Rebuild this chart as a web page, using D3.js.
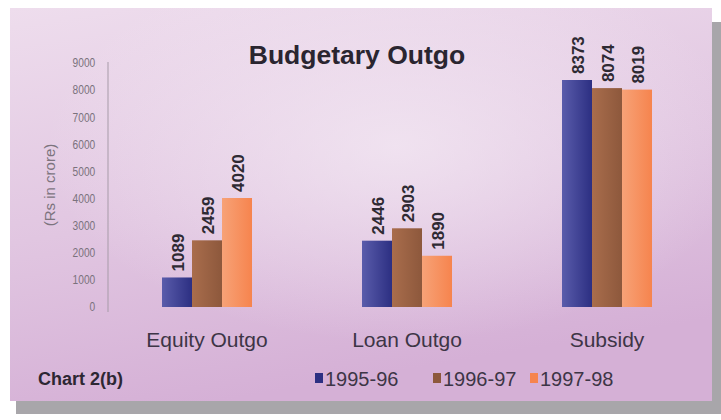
<!DOCTYPE html>
<html>
<head>
<meta charset="utf-8">
<script src="https://cdn.jsdelivr.net/npm/d3@7"></script>
<style>
  body { margin: 0; background: #fff; }
  svg { display: block; font-family: "Liberation Sans", Arial, sans-serif; }
</style>
</head>
<body>
<div id="chart"></div>
<script>
const categories = ["Equity Outgo", "Loan Outgo", "Subsidy"];
const years = ["1995-96", "1996-97", "1997-98"];
const v9596 = [1089, 2446, 8373];
const v9697 = [2459, 2903, 8074];
const v9798 = [4020, 1890, 8019];
const yTicks = [0, 1000, 2000, 3000, 4000, 5000, 6000, 7000, 8000, 9000];

const series = [v9596, v9697, v9798];
const colors = [
  ["#5a5cab", "#2c2f82"],
  ["#a96d4c", "#8d583c"],
  ["#f7a277", "#f6844e"]
];

const W = 721, H = 420;
const svg = d3.select("#chart").append("svg")
  .attr("width", W)
  .attr("height", H);

const defs = svg.append("defs");
const bg = defs.append("linearGradient").attr("id", "bg")
  .attr("x1", 0).attr("y1", 0).attr("x2", 0.3).attr("y2", 1);
bg.append("stop").attr("offset", "0%").attr("stop-color", "#eedded");
bg.append("stop").attr("offset", "55%").attr("stop-color", "#e1c6e1");
bg.append("stop").attr("offset", "100%").attr("stop-color", "#d5b0d6");
const glow = defs.append("radialGradient").attr("id", "glow")
  .attr("cx", "55%").attr("cy", "35%").attr("r", "50%");
glow.append("stop").attr("offset", "0%").attr("stop-color", "#f4eaf4").attr("stop-opacity", 0.75);
glow.append("stop").attr("offset", "100%").attr("stop-color", "#f4eaf4").attr("stop-opacity", 0);

colors.forEach((c, i) => {
  const g = defs.append("linearGradient").attr("id", "bar" + i)
    .attr("x1", 0).attr("y1", 0).attr("x2", 1).attr("y2", 0);
  g.append("stop").attr("offset", "0%").attr("stop-color", c[0]);
  g.append("stop").attr("offset", "100%").attr("stop-color", c[1]);
});

// panel + shadow
svg.append("rect").attr("x", 16).attr("y", 22).attr("width", W - 16).attr("height", 392)
  .attr("fill", "#a8a6aa");
svg.append("rect").attr("x", 10).attr("y", 8).attr("width", 702).attr("height", 393)
  .attr("fill", "url(#bg)");
svg.append("rect").attr("x", 10).attr("y", 8).attr("width", 702).attr("height", 393)
  .attr("fill", "url(#glow)");

const y = d3.scaleLinear().domain([0, 9000]).range([307, 63]);
const x0 = d3.scaleBand().domain(categories).range([162, 652]).paddingInner(0.55).paddingOuter(0);
const x1 = d3.scaleBand().domain(years).range([0, x0.bandwidth()]);

// y axis
const yAxis = svg.append("g")
  .attr("transform", "translate(108,0)")
  .call(d3.axisLeft(y).tickValues(yTicks).tickSize(0).tickPadding(13).tickFormat(d3.format("d")));
yAxis.select(".domain").attr("stroke", "#a79ba8").attr("stroke-width", 1).attr("d", "M0,62V312");
yAxis.selectAll("text")
  .attr("fill", "#7a727c")
  .style("font-size", "12px")
  .attr("transform", "scale(0.85,1)")
  .attr("x", -15);

svg.append("text")
  .attr("transform", "translate(55,185) rotate(-90)")
  .attr("text-anchor", "middle")
  .attr("fill", "#7c747e")
  .style("font-size", "15px")
  .text("(Rs in crore)");

// title
svg.append("text")
  .attr("x", 357).attr("y", 64)
  .attr("text-anchor", "middle")
  .attr("fill", "#2a2530")
  .style("font-size", "26.5px")
  .style("font-weight", "bold")
  .text("Budgetary Outgo");

// bars
const groups = svg.selectAll(".grp")
  .data(categories)
  .enter().append("g")
  .attr("class", "grp")
  .attr("transform", d => `translate(${x0(d)},0)`);

years.forEach((yr, si) => {
  groups.append("rect")
    .attr("x", x1(yr))
    .attr("width", x1.bandwidth())
    .attr("y", (d, ci) => y(series[si][ci]))
    .attr("height", (d, ci) => y(0) - y(series[si][ci]))
    .attr("fill", `url(#bar${si})`);
  groups.append("text")
    .attr("transform", (d, ci) => `translate(${x1(yr) + x1.bandwidth() / 2 + 7},${y(series[si][ci]) - 6}) rotate(-90)`)
    .attr("fill", "#2e2a33")
    .style("font-size", "17px")
    .style("font-weight", "bold")
    .text((d, ci) => series[si][ci]);
});

// category labels
groups.append("text")
  .attr("x", x0.bandwidth() / 2)
  .attr("y", 347)
  .attr("text-anchor", "middle")
  .attr("fill", "#3d3546")
  .style("font-size", "21px")
  .text(d => d);

// footer
svg.append("text")
  .attr("x", 38).attr("y", 385)
  .attr("fill", "#2d2733")
  .style("font-size", "18px")
  .style("font-weight", "bold")
  .text("Chart 2(b)");

const legendX = [315, 433, 530];
const legend = svg.selectAll(".leg")
  .data(years)
  .enter().append("g")
  .attr("class", "leg")
  .attr("transform", (d, i) => `translate(${legendX[i]},0)`);
legend.append("rect")
  .attr("x", 0).attr("y", 373).attr("width", 8).attr("height", 10)
  .attr("fill", (d, i) => colors[i][1]);
legend.append("text")
  .attr("x", 10).attr("y", 386)
  .attr("fill", "#3d3546")
  .style("font-size", "20px")
  .text(d => d);
</script>
</body>
</html>
